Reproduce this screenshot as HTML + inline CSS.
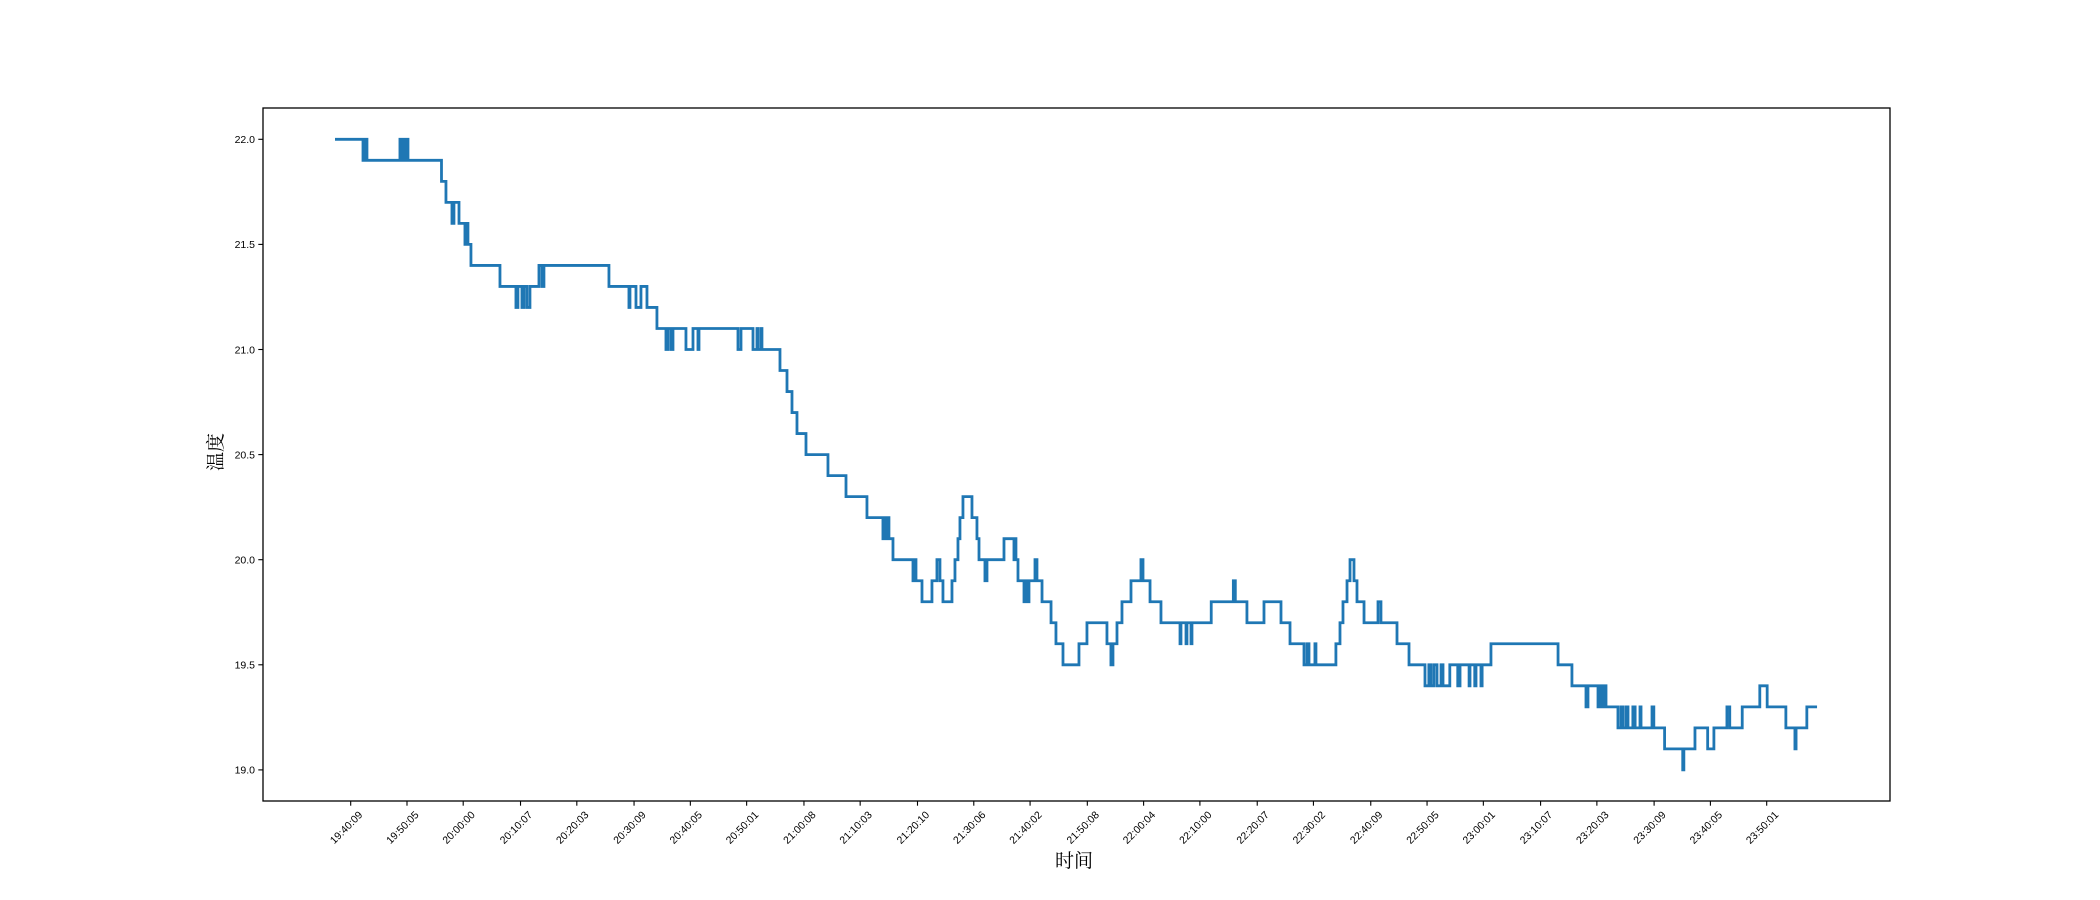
<!DOCTYPE html>
<html><head><meta charset="utf-8">
<style>
html,body{margin:0;padding:0;background:#fff;}
svg{display:block;}
text{font-family:"Liberation Sans","Noto Sans CJK SC",sans-serif;}
</style></head>
<body>
<svg id="chart" width="2100" height="900" viewBox="0 0 2100 900" xmlns="http://www.w3.org/2000/svg">
<rect x="0" y="0" width="2100" height="900" fill="#fff"/>
<g id="plot"></g>
</svg>
<script>
// minutes after 19:40:00 where each value begins (step data)
const times = [-2.62,2.32,2.67,3.02,8.84,9.19,9.37,9.73,9.90,10.26,16.17,16.96,18.02,18.37,19.26,20.31,20.49,20.84,21.37,26.49,29.31,29.66,30.37,30.73,31.25,31.78,33.37,33.90,34.25,45.72,49.25,49.43,50.49,51.37,52.43,53.49,54.19,55.78,56.13,56.66,57.02,59.31,60.55,61.43,61.61,68.49,69.02,71.14,71.84,72.02,72.55,72.72,75.90,77.14,78.02,78.90,80.49,84.37,87.55,91.25,94.07,94.25,94.6,94.78,95.13,95.84,99.37,99.72,99.9,100.96,102.72,103.6,104.13,104.66,106.25,106.78,107.31,107.66,108.19,109.78,110.66,111.02,112.07,112.43,115.43,117.19,117.37,117.54,117.9,118.96,119.31,119.49,119.84,120.9,121.25,122.14,123.73,124.6,125.84,128.66,130.07,133.6,134.3,134.66,135.37,136.25,137.84,139.6,139.96,141.2,143.13,146.49,146.66,147.55,147.72,148.43,148.6,152.0,155.9,156.25,158.3,161.31,164.31,165.9,168.37,168.9,169.25,170.3,170.48,174.0,174.72,175.25,175.96,176.49,177.19,177.72,178.96,181.43,181.95,184.78,186.9,189.72,190.4,190.78,191.3,191.84,192.55,192.9,194.1,195.5,195.9,197.5,197.66,198.5,198.72,199.6,199.8,201.36,213.2,215.65,218.13,218.48,220.25,220.6,220.96,221.3,221.66,223.77,224.3,224.66,225.2,225.54,226.4,226.8,227.66,227.84,229.78,230.1,232.0,235.2,235.4,237.36,239.6,240.7,243.0,243.5,245.7,248.8,250.1,253.4,255.0,255.2,257.1];
const temps = [22.0,21.9,22.0,21.9,22.0,21.9,22.0,21.9,22.0,21.9,21.8,21.7,21.6,21.7,21.6,21.5,21.6,21.5,21.4,21.3,21.2,21.3,21.2,21.3,21.2,21.3,21.4,21.3,21.4,21.3,21.2,21.3,21.2,21.3,21.2,21.2,21.1,21.0,21.1,21.0,21.1,21.0,21.1,21.0,21.1,21.0,21.1,21.0,21.1,21.0,21.1,21.0,20.9,20.8,20.7,20.6,20.5,20.4,20.3,20.2,20.1,20.2,20.1,20.2,20.1,20.0,19.9,20.0,19.9,19.8,19.9,20.0,19.9,19.8,19.9,20.0,20.1,20.2,20.3,20.2,20.1,20.0,19.9,20.0,20.1,20.0,20.1,20.0,19.9,19.8,19.9,19.8,19.9,20.0,19.9,19.8,19.7,19.6,19.5,19.6,19.7,19.6,19.5,19.6,19.7,19.8,19.9,20.0,19.9,19.8,19.7,19.6,19.7,19.6,19.7,19.6,19.7,19.8,19.9,19.8,19.7,19.8,19.7,19.6,19.5,19.6,19.5,19.6,19.5,19.6,19.7,19.8,19.9,20.0,19.9,19.8,19.7,19.8,19.7,19.6,19.5,19.4,19.5,19.4,19.5,19.4,19.5,19.4,19.5,19.4,19.5,19.4,19.5,19.4,19.5,19.4,19.5,19.6,19.5,19.4,19.3,19.4,19.3,19.4,19.3,19.4,19.3,19.2,19.3,19.2,19.3,19.2,19.3,19.2,19.3,19.2,19.3,19.2,19.1,19.0,19.1,19.2,19.1,19.2,19.3,19.2,19.3,19.4,19.3,19.2,19.1,19.2,19.3];
const endTime = 258.9;
const xTickLabels = ["19:40:09","19:50:05","20:00:00","20:10:07","20:20:03","20:30:09","20:40:05","20:50:01","21:00:08","21:10:03","21:20:10","21:30:06","21:40:02","21:50:08","22:00:04","22:10:00","22:20:07","22:30:02","22:40:09","22:50:05","23:00:01","23:10:07","23:20:03","23:30:09","23:40:05","23:50:01"];
const yTicks = [19.0,19.5,20.0,20.5,21.0,21.5,22.0];

const NS = "http://www.w3.org/2000/svg";
const L = 263, R = 1890, T = 108, B = 801;
function xs(m){ return 350.7 + (m - 0.15) * 5.667; }
function ys(v){ return 139.3 + (22.0 - v) * 210.2; }
function tickMin(s){ const p = s.split(":").map(Number); return (p[0]-19)*60 + p[1] - 40 + p[2]/60; }
const g = document.getElementById("plot");
function mk(tag, attrs){ const e = document.createElementNS(NS, tag); for (const k in attrs) e.setAttribute(k, attrs[k]); g.appendChild(e); return e; }

// series
let d = "";
for (let i = 0; i < times.length; i++) {
  const x = xs(times[i]), y = ys(temps[i]);
  d += (i === 0 ? "M" : "L") + x.toFixed(2) + " " + ys(temps[i-1] === undefined ? temps[i] : temps[i-1]).toFixed(2) + " L" + x.toFixed(2) + " " + y.toFixed(2) + " ";
  const nx = i + 1 < times.length ? xs(times[i+1]) : xs(endTime);
  d += "L" + nx.toFixed(2) + " " + y.toFixed(2) + " ";
}
const line = mk("path", {d: d, fill: "none", stroke: "#1f77b4", "stroke-width": "2.8", "stroke-linejoin": "miter"});



// frame
const frame = mk("rect", {x: L, y: T, width: R - L, height: B - T, fill: "none", stroke: "#000", "stroke-width": "1.3"});



// y ticks
yTicks.forEach(v => {
  const y = ys(v);
  const t = mk("line", {x1: L - 4.7, x2: L, y1: y, y2: y, stroke: "#000", "stroke-width": "1.1"});
  
  
  const lb = mk("text", {x: L - 8, y: y + 3.8, "text-anchor": "end", "font-size": "10.5", fill: "#000"});
  lb.textContent = v.toFixed(1);
  
  
});

// x ticks
xTickLabels.forEach(s => {
  const x = xs(tickMin(s));
  const t = mk("line", {x1: x, x2: x, y1: B, y2: B + 4.7, stroke: "#000", "stroke-width": "1.1"});
  
  
  const lb = mk("text", {x: 0, y: 0, "text-anchor": "middle", "font-size": "10.5", fill: "#000", transform: "translate(" + (x - 2) + "," + (B + 29) + ") rotate(-45)"});
  lb.textContent = s;
  
  
});

// axis titles
const xt = mk("text", {x: 1074, y: 867, "text-anchor": "middle", "font-size": "19", fill: "#000", style: "font-family:'Noto Serif CJK SC','Noto Sans CJK SC',serif"});
xt.textContent = "时间";


const yt = mk("text", {x: 0, y: 0, "text-anchor": "middle", "font-size": "19", fill: "#000", style: "font-family:'Noto Serif CJK SC','Noto Sans CJK SC',serif", transform: "translate(222,452) rotate(-90)"});
yt.textContent = "温度";


</script>
</body></html>
